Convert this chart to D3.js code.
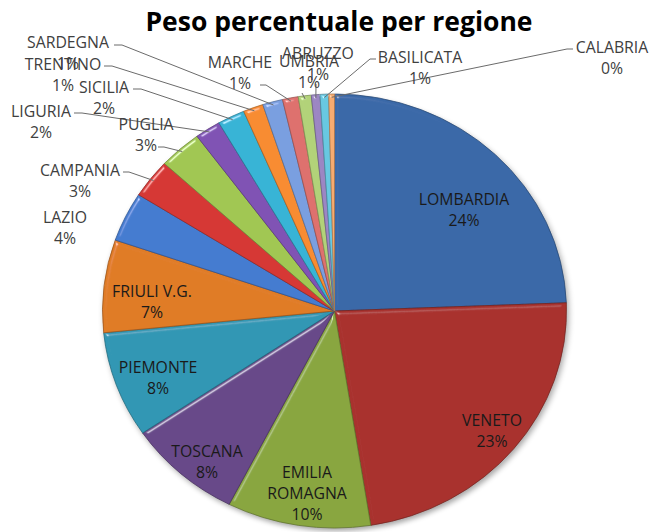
<!DOCTYPE html>
<html>
<head>
<meta charset="utf-8">
<script src="https://d3js.org/d3.v7.min.js"></script>
<style>
  body { margin: 0; background: #fff; }
  svg { display: block; }
</style>
</head>
<body>
<script>
// dati (peso in %)
const regioni = ["LOMBARDIA", "VENETO", "EMILIA ROMAGNA", "TOSCANA", "PIEMONTE", "FRIULI V.G.",
  "LAZIO", "CAMPANIA", "PUGLIA", "LIGURIA", "SICILIA", "TRENTINO", "SARDEGNA", "MARCHE",
  "UMBRIA", "ABRUZZO", "BASILICATA", "CALABRIA"];
const pesi = [24.4, 23.1, 10.0, 8.0, 7.9, 6.9, 3.7, 2.9, 3.0, 1.8, 1.9, 1.4, 1.4, 1.1, 0.9, 0.6, 0.6, 0.4];
const colori = ["#3a69a8", "#a9332f", "#89a63f", "#684889", "#3197b4", "#e07b27",
  "#447bd0", "#d63936", "#a1c753", "#8053b4", "#38b4d6", "#f88c30",
  "#7a9fe0", "#de716e", "#b2d279", "#9c86c3", "#68c8e1", "#f7ab6f"];

let width = 653;
let height = 532;
let cx = 334.5, cy = 311;
let rx = 232, ry = 217;

// posizione delle etichette (centro testo, baseline prima riga) e attacco della linea guida
let etichette = {
  "LOMBARDIA": {x: 464, y: 205, dentro: true},
  "VENETO": {x: 492, y: 426, dentro: true},
  "EMILIA ROMAGNA": {x: 307, y: 478, dentro: true, aCapo: true},
  "TOSCANA": {x: 207, y: 457, dentro: true},
  "PIEMONTE": {x: 158, y: 373, dentro: true},
  "FRIULI V.G.": {x: 152, y: 297, dentro: true},
  "LAZIO": {x: 65, y: 223},
  "CAMPANIA": {x: 80, y: 176, guida: [123, 172], dx: 6},
  "PUGLIA": {x: 146, y: 130, guida: [158, 147], dx: 6},
  "LIGURIA": {x: 41, y: 117, guida: [74, 113], dx: 8},
  "SICILIA": {x: 104, y: 93, guida: [133, 89], dx: 8},
  "TRENTINO": {x: 63, y: 70, guida: [104, 66], dx: 8},
  "SARDEGNA": {x: 68, y: 48, guida: [114, 45], dx: 8},
  "MARCHE": {x: 240, y: 68, guida: [260, 85], dx: 6},
  "UMBRIA": {x: 309, y: 67, guida: [302, 93], dx: 0},
  "ABRUZZO": {x: 318, y: 59, guida: [316, 84], dx: 0},
  "BASILICATA": {x: 420, y: 63, guida: [376, 59], dx: -6},
  "CALABRIA": {x: 612, y: 53, guida: [573, 49], dx: -6}
};

let svg = d3.select("body").append("svg")
  .attr("width", width)
  .attr("height", height);

let defs = svg.append("defs");

// ombra sotto la torta
let ombra = defs.append("filter").attr("id", "ombra")
  .attr("x", "-10%").attr("y", "-10%").attr("width", "120%").attr("height", "120%");
ombra.append("feGaussianBlur").attr("in", "SourceAlpha").attr("stdDeviation", 3);
ombra.append("feOffset").attr("dx", 2).attr("dy", 3).attr("result", "off");
ombra.append("feComponentTransfer").append("feFuncA").attr("type", "linear").attr("slope", 0.35);

// effetto bisello delle fette
let bisello = defs.append("filter").attr("id", "bisello")
  .attr("x", "-5%").attr("y", "-5%").attr("width", "110%").attr("height", "110%");
bisello.append("feGaussianBlur").attr("in", "SourceAlpha").attr("stdDeviation", 2).attr("result", "blur");
bisello.append("feSpecularLighting").attr("in", "blur").attr("surfaceScale", 3)
  .attr("specularConstant", 0.5).attr("specularExponent", 70)
  .attr("lighting-color", "#ffffff").attr("result", "spec")
  .append("feDistantLight").attr("azimuth", 235).attr("elevation", 40);
bisello.append("feComposite").attr("in", "spec").attr("in2", "SourceAlpha")
  .attr("operator", "in").attr("result", "specIn");
bisello.append("feComposite").attr("in", "SourceGraphic").attr("in2", "specIn")
  .attr("operator", "arithmetic").attr("k1", 0).attr("k2", 1).attr("k3", 1).attr("k4", 0);

//Titolo
svg.append("text")
  .attr("x", 339)
  .attr("y", 31)
  .attr("text-anchor", "middle")
  .style("font-family", "'Open Sans', sans-serif")
  .style("font-weight", "bold")
  .style("font-size", "26.5px")
  .style("fill", "#000")
  .text("Peso percentuale per regione");

let dati = regioni.map((r, i) => ({regione: r, peso: pesi[i], colore: colori[i]}));

let pie = d3.pie().sort(null).value(d => d.peso);
let fette = pie(dati);

let arc = d3.arc().innerRadius(0).outerRadius(rx);

let torta = svg.append("g")
  .attr("transform", "translate(" + cx + "," + cy + ") scale(1," + (ry / rx) + ")");

torta.append("ellipse")
  .attr("rx", rx).attr("ry", rx)
  .attr("fill", "#000")
  .attr("filter", "url(#ombra)");

torta.selectAll("path.fetta")
  .data(fette)
  .enter()
  .append("path")
  .attr("class", "fetta")
  .attr("d", arc)
  .attr("fill", d => d.data.colore)
  .attr("stroke", d => d3.color(d.data.colore).darker(1))
  .attr("stroke-width", 0.8)
  .attr("filter", "url(#bisello)");

// punto sul bordo a metà fetta
function bordo(d) {
  let a = (d.startAngle + d.endAngle) / 2;
  return [cx + rx * 0.985 * Math.sin(a), cy - ry * 0.985 * Math.cos(a)];
}

let gLinee = svg.append("g");
let gTesti = svg.append("g");

fette.forEach(function(d) {
  let e = etichette[d.data.regione];
  let righe = e.aCapo ? d.data.regione.split(" ") : [d.data.regione];
  righe.push(Math.round(d.data.peso) + "%");

  let t = gTesti.append("text")
    .attr("text-anchor", "middle")
    .style("font-family", "'Open Sans', sans-serif")
    .style("font-size", "15.8px")
    .style("fill", e.dentro ? "#1a1a1a" : "#404040");
  righe.forEach(function(r, i) {
    t.append("tspan")
      .attr("x", e.x)
      .attr("y", e.y + i * 21)
      .text(r);
  });

  if (e.guida) {
    let p = bordo(d);
    let path = d3.path();
    path.moveTo(e.guida[0], e.guida[1]);
    path.lineTo(e.guida[0] + e.dx, e.guida[1]);
    path.lineTo(p[0], p[1]);
    gLinee.append("path")
      .attr("d", path.toString())
      .attr("fill", "none")
      .attr("stroke", "#6b6b6b")
      .attr("stroke-width", 1);
  }
});
</script>
</body>
</html>
